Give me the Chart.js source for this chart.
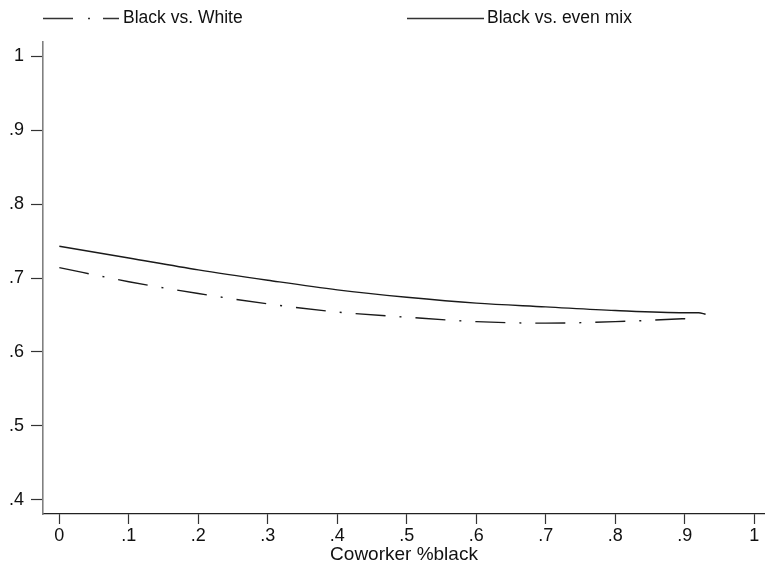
<!DOCTYPE html>
<html>
<head>
<meta charset="utf-8">
<script src="https://cdn.jsdelivr.net/npm/chart.js@4"></script>
<style>
  html, body { margin: 0; padding: 0; background: #fff; }
  #wrap { width: 765px; height: 567px; position: relative; }
</style>
</head>
<body>
<div id="wrap"><canvas id="chart" width="765" height="567"></canvas></div>
<script>
// values
const xMix = [0, 0.1, 0.2, 0.3, 0.4, 0.5, 0.6, 0.7, 0.8, 0.9, 0.92, 0.93];
const yMix = [0.743, 0.727, 0.711, 0.697, 0.684, 0.674, 0.666, 0.661, 0.656, 0.653, 0.653, 0.651];
const xWhite = [0, 0.1, 0.2, 0.3, 0.4, 0.5, 0.6, 0.7, 0.8, 0.9, 0.915, 0.92];
const yWhite = [0.714, 0.695, 0.679, 0.665, 0.654, 0.647, 0.641, 0.639, 0.641, 0.645, 0.646, 0.648];

const xTicks = [0, 0.1, 0.2, 0.3, 0.4, 0.5, 0.6, 0.7, 0.8, 0.9, 1];
const xTickLabels = ['0', '.1', '.2', '.3', '.4', '.5', '.6', '.7', '.8', '.9', '1'];
const yTicks = [0.4, 0.5, 0.6, 0.7, 0.8, 0.9, 1];
const yTickLabels = ['.4', '.5', '.6', '.7', '.8', '.9', '1'];

const seriesNames = ['Black vs. White', 'Black vs. even mix'];

const FONT = 'Liberation Sans, Arial, Helvetica, sans-serif';
const INK = '#111';

function pts(xs, ys) {
    return xs.map((x, i) => ({ x: x, y: ys[i] }));
}

// stata-style legend across the top
const topLegend = {
    id: 'topLegend',
    afterDraw(chart) {
        const ctx = chart.ctx;
        const items = [
            { x0: 43, x1: 119, tx: 123, dash: [30, 15, 2, 13], label: seriesNames[0] },
            { x0: 407, x1: 484, tx: 487, dash: [], label: seriesNames[1] }
        ];
        const y = 18.5;
        ctx.save();
        ctx.strokeStyle = '#333';
        ctx.lineWidth = 1.4;
        ctx.fillStyle = INK;
        ctx.font = '17.5px ' + FONT;
        ctx.textBaseline = 'alphabetic';
        items.forEach(it => {
            ctx.setLineDash(it.dash);
            ctx.beginPath();
            ctx.moveTo(it.x0, y);
            ctx.lineTo(it.x1, y);
            ctx.stroke();
            ctx.fillText(it.label, it.tx, 23);
        });
        ctx.restore();
    }
};

const ctx = document.getElementById('chart').getContext('2d');
new Chart(ctx, {
    type: 'line',
    data: {
        datasets: [
            {
                label: seriesNames[0],
                data: pts(xWhite, yWhite),
                borderColor: '#1a1a1a',
                borderWidth: 1.4,
                borderDash: [30, 14, 2, 14],
                pointRadius: 0,
                fill: false,
                cubicInterpolationMode: 'monotone'
            },
            {
                label: seriesNames[1],
                data: pts(xMix, yMix),
                borderColor: '#1a1a1a',
                borderWidth: 1.4,
                pointRadius: 0,
                fill: false,
                cubicInterpolationMode: 'monotone'
            }
        ]
    },
    options: {
        responsive: false,
        animation: false,
        layout: { padding: { top: 42, left: 0, right: 0, bottom: 0 } },
        plugins: {
            legend: { display: false },
            tooltip: { enabled: false }
        },
        scales: {
            x: {
                type: 'linear',
                min: -0.0235,
                max: 1.0155,
                afterFit: s => { s.height = 53; },
                afterBuildTicks: s => { s.ticks = xTicks.map(v => ({ value: v })); },
                grid: { drawOnChartArea: false, drawTicks: true, tickLength: 10, tickColor: '#333', tickWidth: 1.2 },
                border: { display: true, color: '#222', width: 1.2 },
                ticks: {
                    autoSkip: false,
                    maxRotation: 0,
                    padding: 1,
                    color: INK,
                    font: { family: FONT, size: 18 },
                    callback: (v, i) => xTickLabels[i]
                },
                title: {
                    display: true,
                    text: 'Coworker %black',
                    color: INK,
                    font: { family: FONT, size: 19 },
                    padding: { top: 0, bottom: 1 }
                }
            },
            y: {
                type: 'linear',
                min: 0.381,
                max: 1.019,
                afterFit: s => { s.width = 43; },
                afterBuildTicks: s => { s.ticks = yTicks.map(v => ({ value: v })); },
                grid: { drawOnChartArea: false, drawTicks: true, tickLength: 12, tickColor: '#333', tickWidth: 1.2 },
                border: { display: true, color: '#808080', width: 1.6 },
                ticks: {
                    autoSkip: false,
                    padding: 7,
                    color: INK,
                    font: { family: FONT, size: 18 },
                    callback: (v, i) => yTickLabels[i]
                }
            }
        }
    },
    plugins: [topLegend]
});
</script>
</body>
</html>
